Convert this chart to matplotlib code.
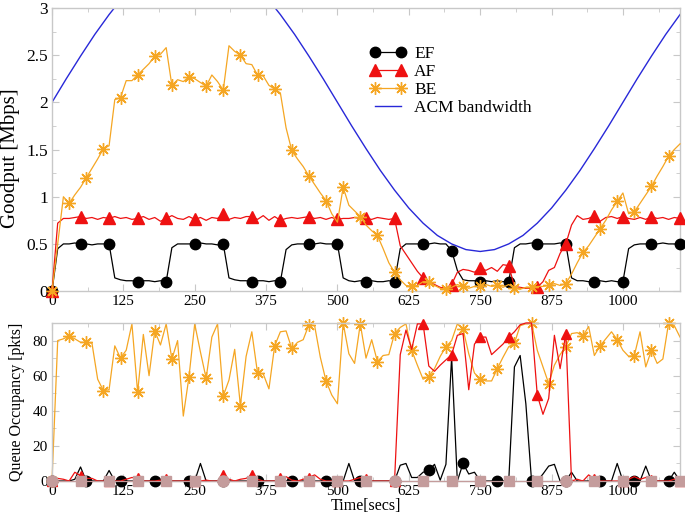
import numpy as np
import matplotlib
matplotlib.use("Agg")
import matplotlib.pyplot as plt
from matplotlib.ticker import MultipleLocator

# sample times (s)
t = np.arange(0, 1101, 10)
t_bw = np.arange(0, 1101, 25)

# goodput [Mbps]
ef_goodput = [
    0, 0.45, 0.5, 0.5, 0.51, 0.5, 0.5, 0.49, 0.5, 0.5, 0.5,
    0.14, 0.12, 0.11, 0.11, 0.1, 0.11, 0.11, 0.1, 0.11, 0.1,
    0.46, 0.5, 0.5, 0.5, 0.5, 0.51, 0.5, 0.5, 0.49, 0.5,
    0.14, 0.12, 0.11, 0.11, 0.1, 0.11, 0.11, 0.1, 0.11, 0.1,
    0.44, 0.49, 0.5, 0.5, 0.5, 0.5, 0.51, 0.5, 0.5, 0.5,
    0.14, 0.11, 0.1, 0.11, 0.1, 0.11, 0.1, 0.1, 0.11, 0.1,
    0.45, 0.5, 0.5, 0.5, 0.5, 0.5, 0.51, 0.5, 0.5, 0.43,
    0.22, 0.12, 0.11, 0.11, 0.1, 0.11, 0.1, 0.11, 0.1, 0.1,
    0.46, 0.5, 0.5, 0.51, 0.5, 0.5, 0.5, 0.5, 0.51, 0.5,
    0.14, 0.11, 0.11, 0.1, 0.1, 0.11, 0.1, 0.11, 0.1, 0.1,
    0.45, 0.49, 0.5, 0.5, 0.5, 0.5, 0.51, 0.5, 0.5, 0.5,
]
af_goodput = [
    0, 0.72, 0.77, 0.77, 0.78, 0.79, 0.77, 0.78, 0.76, 0.78, 0.77,
    0.79, 0.77, 0.78, 0.76, 0.77, 0.79, 0.76, 0.78, 0.74, 0.77,
    0.80, 0.77, 0.76, 0.79, 0.76, 0.78, 0.75, 0.78, 0.77, 0.82,
    0.76, 0.78, 0.77, 0.79, 0.79, 0.76, 0.80, 0.75, 0.79, 0.75,
    0.77, 0.78, 0.77, 0.78, 0.79, 0.77, 0.78, 0.76, 0.78, 0.76,
    0.77, 0.77, 0.78, 0.77, 0.77, 0.76, 0.78, 0.77, 0.76, 0.77,
    0.48, 0.39, 0.30, 0.21, 0.14, 0.10, 0.07, 0.04, 0.03, 0.07,
    0.20, 0.23, 0.22, 0.20, 0.25, 0.22, 0.25, 0.21, 0.28, 0.27,
    0.05, 0.04, 0.03, 0.03, 0.04, 0.10, 0.22, 0.25, 0.40, 0.50,
    0.70, 0.80, 0.76, 0.77, 0.80, 0.74, 0.78, 0.79, 0.77, 0.79,
    0.77, 0.76, 0.78, 0.76, 0.79, 0.77, 0.78, 0.76, 0.78, 0.77,
]
be_goodput = [
    0, 0.5, 1.0, 0.93, 1.02, 1.1, 1.2, 1.3, 1.4, 1.51, 1.54,
    2.03, 2.05, 2.23, 2.23, 2.29, 2.35, 2.41, 2.49, 2.51, 2.58,
    2.18, 2.24, 2.22, 2.27, 2.25, 2.21, 2.17, 2.29, 2.22, 2.13,
    2.60, 2.54, 2.50, 2.41, 2.40, 2.29, 2.28, 2.18, 2.14, 2.10,
    1.73, 1.49, 1.40, 1.32, 1.22, 1.13, 1.04, 0.96, 0.82, 0.73,
    1.10, 0.91, 0.85, 0.79, 0.70, 0.64, 0.59, 0.45, 0.30, 0.20,
    0.12, 0.06, 0.05, 0.06, 0.10, 0.10, 0.06, 0.03, 0.02, 0.04,
    0.07, 0.05, 0.03, 0.05, 0.05, 0.07, 0.05, 0.06, 0.04, 0.07,
    0.03, 0.02, 0.04, 0.04, 0.05, 0.05, 0.06, 0.08, 0.06, 0.08,
    0.18, 0.30, 0.41, 0.48, 0.57, 0.66, 0.75, 0.86, 0.95, 1.04,
    0.82, 0.84, 0.93, 1.02, 1.11, 1.22, 1.32, 1.43, 1.50, 1.56,
]
acm_bandwidth = [
    2.00, 2.25, 2.49, 2.72, 2.93, 3.12, 3.28, 3.41, 3.50, 3.56, 3.58,
    3.56, 3.50, 3.41, 3.28, 3.12, 2.93, 2.72, 2.49, 2.25, 2.00,
    1.75, 1.51, 1.28, 1.07, 0.88, 0.72, 0.59, 0.50, 0.44, 0.42,
    0.44, 0.50, 0.59, 0.72, 0.88, 1.07, 1.28, 1.51, 1.75, 2.00,
    2.25, 2.49, 2.72, 2.93,
]

# queue occupancy [pkts]
ef_queue = [
    0, 0, 0, 0, 1, 8, 0, 0, 0, 0, 6,
    0, 0, 0, 0, 0, 0, 0, 0, 0, 0,
    0, 0, 0, 0, 0, 10, 0, 0, 0, 0,
    0, 0, 0, 0, 0, 0, 0, 0, 0, 0,
    0, 0, 0, 0, 0, 0, 0, 0, 0, 0,
    0, 10, 0, 0, 0, 0, 0, 0, 0, 0,
    9, 10, 2, 2, 5, 6, 9.5, 0.5, 9.5, 70.5,
    0, 10, 4, 5, 0, 0, 0, 0, 0, 0,
    65, 71.5, 44, 0, 0, 4, 8.5, 9.5, 0, 0,
    5, 0, 0, 0, 0, 0, 0, 0, 10, 0,
    0, 0, 0, 8.5, 0, 0, 0, 0, 5, 0,
]
af_queue = [
    0, 1.5, 1, 0, 5, 3, 1.5, 1.5, 0, 0, 0,
    0, 0, 1, 2, 1.5, 0, 0, 0, 0.5, 1,
    0, 0, 0, 0, 0, 0, 0.5, 0, 0, 3.5,
    1, 0, 1, 1.5, 3.5, 1, 0, 0, 0, 1.5,
    2.5, 0.5, 0, 1, 2, 3.5, 1, 0, 0, 0,
    0, 0, 1, 2, 1, 0, 0, 0, 0, 0,
    72, 86, 75, 89.5, 89.5, 65.5, 62.5, 66, 69, 72,
    83, 84, 52, 78, 82, 82, 72, 75, 78, 82,
    85, 89, 90, 90, 49, 38, 47, 83, 64, 84,
    0, 1, 0, 3.5, 1, 0, 0, 0, 0, 0,
    1, 2.5, 1, 2, 0.5, 0, 0, 0, 1, 0,
]
be_queue = [
    0, 80, 81, 82.5, 81, 79, 79, 78.5, 58, 51.5, 52,
    77, 70, 74.5, 89.5, 50.5, 83.5, 60, 85.5, 77.5, 89.5,
    69.5, 80, 37, 59.5, 89.5, 73.5, 58.5, 82, 89.5, 48.5,
    57.5, 75, 43, 71, 85, 61.5, 61, 52.5, 77, 85,
    85.5, 75.5, 79, 80.5, 89, 88.5, 70.5, 57, 49, 44,
    90, 72.5, 67, 89.5, 70, 80.5, 68, 71.5, 72, 84,
    87.5, 89.5, 74.5, 66, 58, 59.5, 64, 71, 76.5, 80,
    89.5, 86.5, 72.5, 61.5, 58, 57, 57, 64, 70.5, 76.5,
    78.5, 88.5, 89.5, 90, 74.5, 65, 55.5, 66, 72, 76.5,
    84, 84.5, 82.5, 88, 71.5, 77, 81, 85, 80.5, 74.5,
    71, 71.5, 85, 65, 74.5, 67, 69.5, 90, 88.5, 82,
]
# other queues stay empty (squares / circles along the base line)
sq_times = [50, 100, 150, 200, 250, 350, 400, 450, 500, 550, 650, 700, 750,
            800, 850, 950, 1000, 1050, 1100]
sq_queue = [0] * len(sq_times)
ci_times = [0, 300, 600, 900]
ci_queue = [0] * len(ci_times)

c_ef = "black"
c_af = "#EE1111"
c_be = "#F5A623"
c_bw = "#2828D8"
c_other = "#C49C9C"
frame = "#C8C8C8"
star = (8, 2, 0)

plt.rcParams["font.family"] = ["Liberation Serif", "DejaVu Serif"]

fig = plt.figure(figsize=(6.85, 5.18), dpi=100)
ax1 = fig.add_axes([0.0759, 0.438, 0.9168, 0.5466])
ax2 = fig.add_axes([0.0759, 0.0714, 0.9168, 0.305])

# top panel: goodput
ax1.plot(t, ef_goodput, color=c_ef, lw=0.9, marker="o", ms=7.5,
         markevery=5, label="EF", clip_on=False, zorder=3)
ax1.plot(t, af_goodput, color=c_af, lw=0.9, marker="^", ms=8,
         markevery=5, label="AF", clip_on=False, zorder=4)
ax1.plot(t, be_goodput, color=c_be, lw=0.9, marker=star, ms=9, mew=1.0,
         markevery=3, label="BE", clip_on=False, zorder=5)
ax1.plot(t_bw, acm_bandwidth, color=c_bw, lw=1.0, label="ACM bandwidth", zorder=2)

ax1.set_xlim(0, 1100)
ax1.set_ylim(0, 3)
ax1.xaxis.set_minor_locator(MultipleLocator(62.5))
ax1.yaxis.set_minor_locator(MultipleLocator(0.25))
ax1.set_xticks([0, 125, 250, 375, 500, 625, 750, 875, 1000])
ax1.set_yticks([0, 0.5, 1, 1.5, 2, 2.5, 3])
ax1.set_yticklabels(["0", "0.5", "1", "1.5", "2", "2.5", "3"])
ax1.tick_params(axis="y", labelsize=12.5)
ax1.tick_params(axis="x", labelsize=11)
ax1.set_ylabel("Goodput [Mbps]", fontsize=15, va="center")
ax1.yaxis.set_label_coords(-0.066, 0.47)

leg = ax1.legend(loc="upper left", bbox_to_anchor=(0.487, 0.908), frameon=False,
                 numpoints=2, fontsize=12.5, handlelength=2.1, handletextpad=0.45,
                 labelspacing=0.1, borderpad=0.2)

# bottom panel: queue occupancy
ax2.plot(t, be_queue, color=c_be, lw=0.9, marker=star, ms=9, mew=1.0,
         markevery=3, clip_on=False, zorder=2)
ax2.plot(t, ef_queue, color=c_ef, lw=0.9, marker="o", ms=7.5,
         markevery=6, clip_on=False, zorder=3)
ax2.plot(t, af_queue, color=c_af, lw=0.9, marker="^", ms=7,
         markevery=5, clip_on=False, zorder=4)
ax2.plot(t, [0] * len(t), color=c_other, lw=0.9, zorder=5, clip_on=False)
ax2.plot(sq_times, sq_queue, ls="none", color=c_other, marker="s", ms=7,
         clip_on=False, zorder=6)
ax2.plot(ci_times, ci_queue, ls="none", color=c_other, marker="o", ms=8,
         clip_on=False, zorder=6)

ax2.set_xlim(0, 1100)
ax2.set_ylim(0, 90)
ax2.set_xticks([0, 125, 250, 375, 500, 625, 750, 875, 1000])
ax2.xaxis.set_minor_locator(MultipleLocator(62.5))
ax2.set_yticks([0, 20, 40, 60, 80])
ax2.yaxis.set_minor_locator(MultipleLocator(10))
ax2.tick_params(labelsize=11)
ax2.set_ylabel("Queue Occupancy [pkts]", fontsize=11.5, va="center")
ax2.yaxis.set_label_coords(-0.056, 0.5)
ax2.set_xlabel("Time[secs]", fontsize=11.5, va="center")
ax2.xaxis.set_label_coords(0.5, -0.16)

for ax in (ax1, ax2):
    for sp in ax.spines.values():
        sp.set_color(frame)
        sp.set_linewidth(1.0)
    ax.tick_params(which="both", direction="in", top=True, right=True,
                   color=frame, pad=3)
    ax.tick_params(which="major", length=5)
    ax.tick_params(which="minor", length=3)

fig.savefig("out.png", dpi=100)
plt.close(fig)
